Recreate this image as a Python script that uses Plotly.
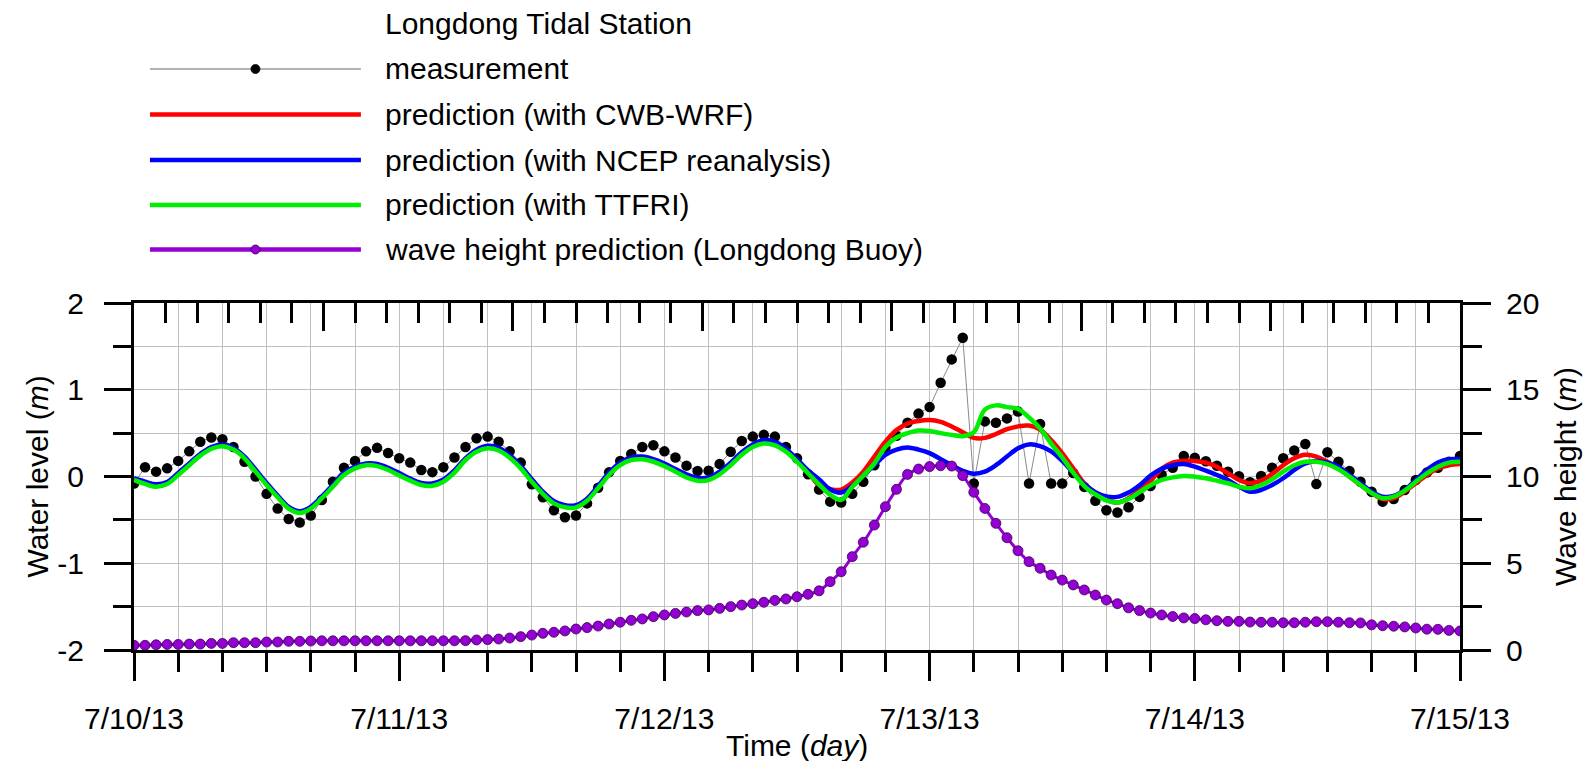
import pandas as pd
import plotly.graph_objects as go

# ---------------- data (hourly, 7/10/13 00:00 .. 7/15/13 00:00) ----------------
times = pd.date_range("2013-07-10 00:00", periods=121, freq="h")

measurement = [
    -0.08, 0.106, 0.056, 0.094, 0.18, 0.29, 0.40, 0.45, 0.43, 0.34,
    0.17, 0.0, -0.20, -0.37, -0.49, -0.53, -0.45, -0.27, -0.06, 0.10,
    0.18, 0.29, 0.33, 0.27, 0.21, 0.16, 0.075, 0.05, 0.106, 0.22,
    0.34, 0.44, 0.46, 0.40, 0.29, 0.16, -0.09, -0.24, -0.39, -0.47,
    -0.45, -0.31, -0.13, 0.05, 0.18, 0.26, 0.34, 0.36, 0.29, 0.22,
    0.125, 0.063, 0.067, 0.144, 0.286, 0.41, 0.46, 0.48, 0.46, 0.34,
    0.21, 0.025, -0.15, -0.29, -0.30, -0.20, -0.06, 0.13, 0.33, 0.47,
    0.62, 0.725, 0.80, 1.08, 1.35, 1.60, -0.08, 0.635, 0.62, 0.67,
    0.75, -0.08, 0.605, -0.08, -0.08, 0.04, -0.12, -0.28, -0.39, -0.415,
    -0.355, -0.235, -0.11, 0.02, 0.10, 0.236, 0.215, 0.175, 0.123, 0.056,
    0.003, -0.065, 0.005, 0.10, 0.21, 0.30, 0.375, -0.086, 0.28, 0.17,
    0.063, -0.06, -0.175, -0.29, -0.26, -0.155, -0.04, 0.045, 0.10, 0.17,
    0.236,
]

pred_cwb_wrf = [
    -0.03, -0.075, -0.105, -0.075, 0.03, 0.14, 0.25, 0.33, 0.36, 0.32,
    0.22, 0.068, -0.085, -0.23, -0.36, -0.41, -0.36, -0.24, -0.105, 0.03,
    0.105, 0.14, 0.132, 0.088, 0.027, -0.035, -0.085, -0.093, -0.047, 0.057,
    0.20, 0.298, 0.34, 0.315, 0.23, 0.107, -0.046, -0.186, -0.296, -0.34,
    -0.34, -0.266, -0.122, 0.031, 0.145, 0.205, 0.213, 0.185, 0.135, 0.07,
    0.005, -0.033, -0.026, 0.04, 0.145, 0.265, 0.355, 0.395, 0.375, 0.30,
    0.183, 0.05, -0.10, -0.145, -0.152, -0.07, 0.056, 0.23, 0.40, 0.535,
    0.61, 0.64, 0.65, 0.63, 0.577, 0.51, 0.445, 0.445, 0.49, 0.545,
    0.578, 0.587, 0.54, 0.42, 0.27, 0.094, -0.078, -0.19, -0.27, -0.30,
    -0.25, -0.155, -0.05, 0.09, 0.16, 0.18, 0.18, 0.16, 0.113, 0.037,
    -0.04, -0.078, -0.048, 0.029, 0.13, 0.21, 0.25, 0.23, 0.17, 0.094,
    -0.002, -0.098, -0.19, -0.26, -0.25, -0.175, -0.078, 0.017, 0.094, 0.13,
    0.144,
]

pred_ncep = [
    -0.02, -0.06, -0.09, -0.065, 0.04, 0.15, 0.26, 0.34, 0.37, 0.33,
    0.23, 0.08, -0.075, -0.22, -0.35, -0.40, -0.35, -0.23, -0.095, 0.04,
    0.115, 0.15, 0.145, 0.10, 0.04, -0.025, -0.075, -0.08, -0.035, 0.07,
    0.21, 0.31, 0.355, 0.33, 0.245, 0.12, -0.03, -0.175, -0.285, -0.33,
    -0.33, -0.255, -0.11, 0.045, 0.16, 0.22, 0.23, 0.20, 0.15, 0.085,
    0.025, -0.015, -0.01, 0.055, 0.16, 0.28, 0.37, 0.42, 0.40, 0.32,
    0.20, 0.07, -0.035, -0.15, -0.185, -0.11, 0.01, 0.13, 0.25, 0.31,
    0.335, 0.31, 0.27, 0.20, 0.13, 0.065, 0.033, 0.056, 0.13, 0.23,
    0.325, 0.37, 0.35, 0.29, 0.18, 0.045, -0.09, -0.18, -0.23, -0.235,
    -0.185, -0.10, 0.01, 0.09, 0.13, 0.144, 0.113, 0.067, 0.017, -0.04,
    -0.117, -0.175, -0.155, -0.098, -0.02, 0.075, 0.152, 0.18, 0.16, 0.113,
    0.017, -0.078, -0.175, -0.233, -0.225, -0.155, -0.04, 0.075, 0.16, 0.198,
    0.198,
]

pred_ttfri = [
    -0.04, -0.086, -0.117, -0.086, 0.017, 0.13, 0.24, 0.32, 0.35, 0.31,
    0.21, 0.056, -0.098, -0.24, -0.37, -0.42, -0.37, -0.25, -0.117, 0.017,
    0.094, 0.13, 0.12, 0.075, 0.013, -0.048, -0.098, -0.106, -0.06, 0.044,
    0.19, 0.286, 0.325, 0.30, 0.217, 0.094, -0.06, -0.20, -0.31, -0.355,
    -0.355, -0.28, -0.136, 0.017, 0.13, 0.19, 0.198, 0.17, 0.12, 0.056,
    -0.01, -0.048, -0.04, 0.025, 0.13, 0.25, 0.34, 0.38, 0.36, 0.286,
    0.17, 0.037, -0.09, -0.21, -0.27, -0.12, 0.01, 0.15, 0.34, 0.45,
    0.50, 0.53, 0.525, 0.50, 0.48, 0.465, 0.51, 0.77, 0.82, 0.80,
    0.78, 0.68, 0.555, 0.38, 0.22, 0.045, -0.11, -0.205, -0.275, -0.30,
    -0.26, -0.18, -0.10, -0.04, -0.01, 0.006, -0.002, -0.02, -0.048, -0.078,
    -0.117, -0.136, -0.098, -0.033, 0.056, 0.13, 0.17, 0.17, 0.144, 0.083,
    -0.002, -0.098, -0.19, -0.25, -0.233, -0.163, -0.06, 0.037, 0.113, 0.16,
    0.17,
]

wave_height = [
    0.27, 0.27, 0.30, 0.32, 0.32, 0.34, 0.34, 0.38, 0.38, 0.42,
    0.42, 0.42, 0.46, 0.46, 0.50, 0.50, 0.52, 0.53, 0.53, 0.53,
    0.53, 0.53, 0.53, 0.53, 0.53, 0.53, 0.53, 0.53, 0.53, 0.53,
    0.54, 0.58, 0.60, 0.63, 0.69, 0.77, 0.86, 0.96, 1.02, 1.10,
    1.21, 1.29, 1.38, 1.50, 1.60, 1.71, 1.79, 1.92, 2.02, 2.11,
    2.19, 2.27, 2.31, 2.40, 2.50, 2.59, 2.67, 2.75, 2.86, 2.94,
    3.07, 3.21, 3.41, 3.94, 4.51, 5.38, 6.21, 7.20, 8.26, 9.26,
    10.12, 10.43, 10.57, 10.62, 10.60, 10.05, 9.09, 8.16, 7.30, 6.47,
    5.72, 5.09, 4.71, 4.32, 4.03, 3.75, 3.46, 3.17, 2.88, 2.67,
    2.43, 2.27, 2.13, 2.02, 1.93, 1.85, 1.81, 1.74, 1.69, 1.65,
    1.65, 1.61, 1.60, 1.60, 1.57, 1.57, 1.60, 1.63, 1.63, 1.60,
    1.57, 1.56, 1.45, 1.40, 1.37, 1.33, 1.27, 1.20, 1.19, 1.13,
    1.10,
]

x_ticks = ["2013-07-10", "2013-07-11", "2013-07-12", "2013-07-13", "2013-07-14", "2013-07-15"]
x_ticktext = ["7/10/13", "7/11/13", "7/12/13", "7/13/13", "7/14/13", "7/15/13"]
wl_ticks = [-2, -1, 0, 1, 2]
wl_ticktext = ["-2", "-1", "0", "1", "2"]
wh_ticks = [0, 5, 10, 15, 20]

legend_title = "Longdong Tidal Station"
legend_labels = [
    "measurement",
    "prediction (with CWB-WRF)",
    "prediction (with NCEP reanalysis)",
    "prediction (with TTFRI)",
    "wave height prediction (Longdong Buoy)",
]

# ---------------- styling ----------------
FONT = "Liberation Sans, Arial, sans-serif"
FS = 30
RED, BLUE, GREEN = "#ff0000", "#0000ff", "#00ee00"
PURPLE = "#9400d3"
GRID = "rgb(192,192,192)"

# the page body has an 8px margin: work in page pixels, convert to figure pixels
OFF = 8
W, H = 1594 - 2 * OFF, 769 - 2 * OFF
L, R, T, B = 134 - OFF, 1460.5 - OFF, 303 - OFF, 650 - OFF   # plot area (figure px)

fig = go.Figure()

fig.add_trace(go.Scatter(
    x=times, y=measurement, mode="lines+markers", name=legend_labels[0],
    line=dict(color="#8a8a8a", width=1),
    marker=dict(color="black", size=10.5), showlegend=False))
fig.add_trace(go.Scatter(x=times, y=pred_cwb_wrf, mode="lines", name=legend_labels[1],
                         line=dict(color=RED, width=4.5, shape="spline"), showlegend=False))
fig.add_trace(go.Scatter(x=times, y=pred_ncep, mode="lines", name=legend_labels[2],
                         line=dict(color=BLUE, width=4.5, shape="spline"), showlegend=False))
fig.add_trace(go.Scatter(x=times, y=pred_ttfri, mode="lines", name=legend_labels[3],
                         line=dict(color=GREEN, width=4.5, shape="spline"), showlegend=False))
fig.add_trace(go.Scatter(
    x=times, y=wave_height, mode="lines+markers", name=legend_labels[4], yaxis="y2",
    line=dict(color=PURPLE, width=3, shape="spline"),
    marker=dict(color=PURPLE, size=10, line=dict(color="#3a0050", width=0.8)),
    showlegend=False))
# carrier trace for the decorative top axis
fig.add_trace(go.Scatter(x=[0, 7], y=[None, None], xaxis="x2", mode="lines",
                         hoverinfo="skip", showlegend=False))

tickfont = dict(family=FONT, size=FS, color="black")

fig.update_layout(
    width=W, height=H,
    margin=dict(l=L, r=W - R, t=T, b=H - B, pad=0),
    paper_bgcolor="white", plot_bgcolor="white",
    font=dict(family=FONT, size=FS, color="black"),
    showlegend=False,
    xaxis=dict(
        range=["2013-07-10 00:00", "2013-07-15 00:00"],
        tickmode="array", tickvals=x_ticks, ticktext=x_ticktext,
        ticks="outside", ticklen=28, tickwidth=3, tickcolor="black",
        showline=True, linewidth=3, linecolor="black",
        showgrid=True, gridcolor=GRID, gridwidth=1.3,
        minor=dict(dtick=4 * 3600000, tick0="2013-07-10", ticks="outside", ticklen=19,
                   tickwidth=3, tickcolor="black", showgrid=True, gridcolor=GRID, gridwidth=1.3),
        tickfont=tickfont, ticklabelstandoff=12, zeroline=False,
    ),
    xaxis2=dict(
        overlaying="x", side="top", anchor="y", range=[0, 7],
        tickmode="linear", tick0=0, dtick=1,
        ticks="inside", ticklen=28, tickwidth=3, tickcolor="black",
        minor=dict(dtick=1 / 6, tick0=0, ticks="inside", ticklen=20, tickwidth=3,
                   tickcolor="black", showgrid=False),
        showticklabels=False, showgrid=False, zeroline=False,
        showline=True, linewidth=3, linecolor="black",
    ),
    yaxis=dict(
        range=[-2, 2], tickmode="array", tickvals=wl_ticks, ticktext=wl_ticktext,
        ticks="outside", ticklen=27, tickwidth=3, tickcolor="black",
        showline=True, linewidth=3, linecolor="black",
        showgrid=True, gridcolor=GRID, gridwidth=1.3, zeroline=False,
        minor=dict(tickmode="linear", tick0=-2, dtick=0.5, ticks="outside", ticklen=18,
                   tickwidth=3, tickcolor="black", showgrid=True, gridcolor=GRID, gridwidth=1.3),
        tickfont=tickfont, ticklabelstandoff=14,
    ),
    yaxis2=dict(
        overlaying="y", side="right", anchor="x", range=[0, 20],
        tickmode="array", tickvals=wh_ticks,
        ticks="outside", ticklen=28, tickwidth=3, tickcolor="black",
        showline=True, linewidth=3, linecolor="black",
        showgrid=False, zeroline=False,
        minor=dict(tickmode="linear", tick0=0, dtick=2.5, ticks="outside", ticklen=19,
                   tickwidth=3, tickcolor="black", showgrid=False),
        tickfont=tickfont, ticklabelstandoff=9,
    ),
)

# ---------------- helpers: page pixel -> paper coordinates ----------------
def px_x(px):
    return (px - OFF - L) / (R - L)

def px_y(py):
    return (B - (py - OFF)) / (B - T)

# ---------------- axis titles ----------------
fig.add_annotation(text="Water level (<i>m</i>)", xref="paper", yref="paper",
                   x=px_x(37), y=px_y(476.5), showarrow=False, textangle=-90,
                   font=dict(family=FONT, size=FS), xanchor="center", yanchor="middle")
fig.add_annotation(text="Wave height (<i>m</i>)", xref="paper", yref="paper",
                   x=px_x(1566), y=px_y(476.5), showarrow=False, textangle=-90,
                   font=dict(family=FONT, size=FS), xanchor="center", yanchor="middle")
fig.add_annotation(text="Time (<i>day</i>)", xref="paper", yref="paper",
                   x=px_x(797), y=px_y(745), showarrow=False,
                   font=dict(family=FONT, size=FS), xanchor="center", yanchor="middle")

# ---------------- custom legend (page pixel positions) ----------------
leg_x0, leg_x1, leg_txt = 150, 361, 383
fig.add_annotation(text=legend_title, xref="paper", yref="paper",
                   x=px_x(leg_txt), y=px_y(23), showarrow=False,
                   xanchor="left", yanchor="middle", font=dict(family=FONT, size=FS))
row_y = [69, 114.5, 160, 205, 249.5]
leg_styles = [
    dict(color="#9a9a9a", width=1.3, marker="black", mline="black"),
    dict(color=RED, width=4.5, marker=None, mline=None),
    dict(color=BLUE, width=4.5, marker=None, mline=None),
    dict(color=GREEN, width=4.5, marker=None, mline=None),
    dict(color=PURPLE, width=4.5, marker=PURPLE, mline="#3a0050"),
]
for label, yy, st in zip(legend_labels, row_y, leg_styles):
    fig.add_shape(type="line", xref="paper", yref="paper",
                  x0=px_x(leg_x0), x1=px_x(leg_x1), y0=px_y(yy), y1=px_y(yy),
                  line=dict(color=st["color"], width=st["width"]))
    if st["marker"]:
        xm, ym = px_x((leg_x0 + leg_x1) / 2), px_y(yy)
        fig.add_shape(type="circle", xref="paper", yref="paper",
                      xsizemode="pixel", ysizemode="pixel", xanchor=xm, yanchor=ym,
                      x0=-4.5, x1=4.5, y0=-4.5, y1=4.5,
                      fillcolor=st["marker"], line=dict(color=st["mline"], width=0.8))
    fig.add_annotation(text=label, xref="paper", yref="paper",
                       x=px_x(leg_txt), y=px_y(yy), showarrow=False,
                       xanchor="left", yanchor="middle", font=dict(family=FONT, size=FS))

fig.write_html("out.html")
